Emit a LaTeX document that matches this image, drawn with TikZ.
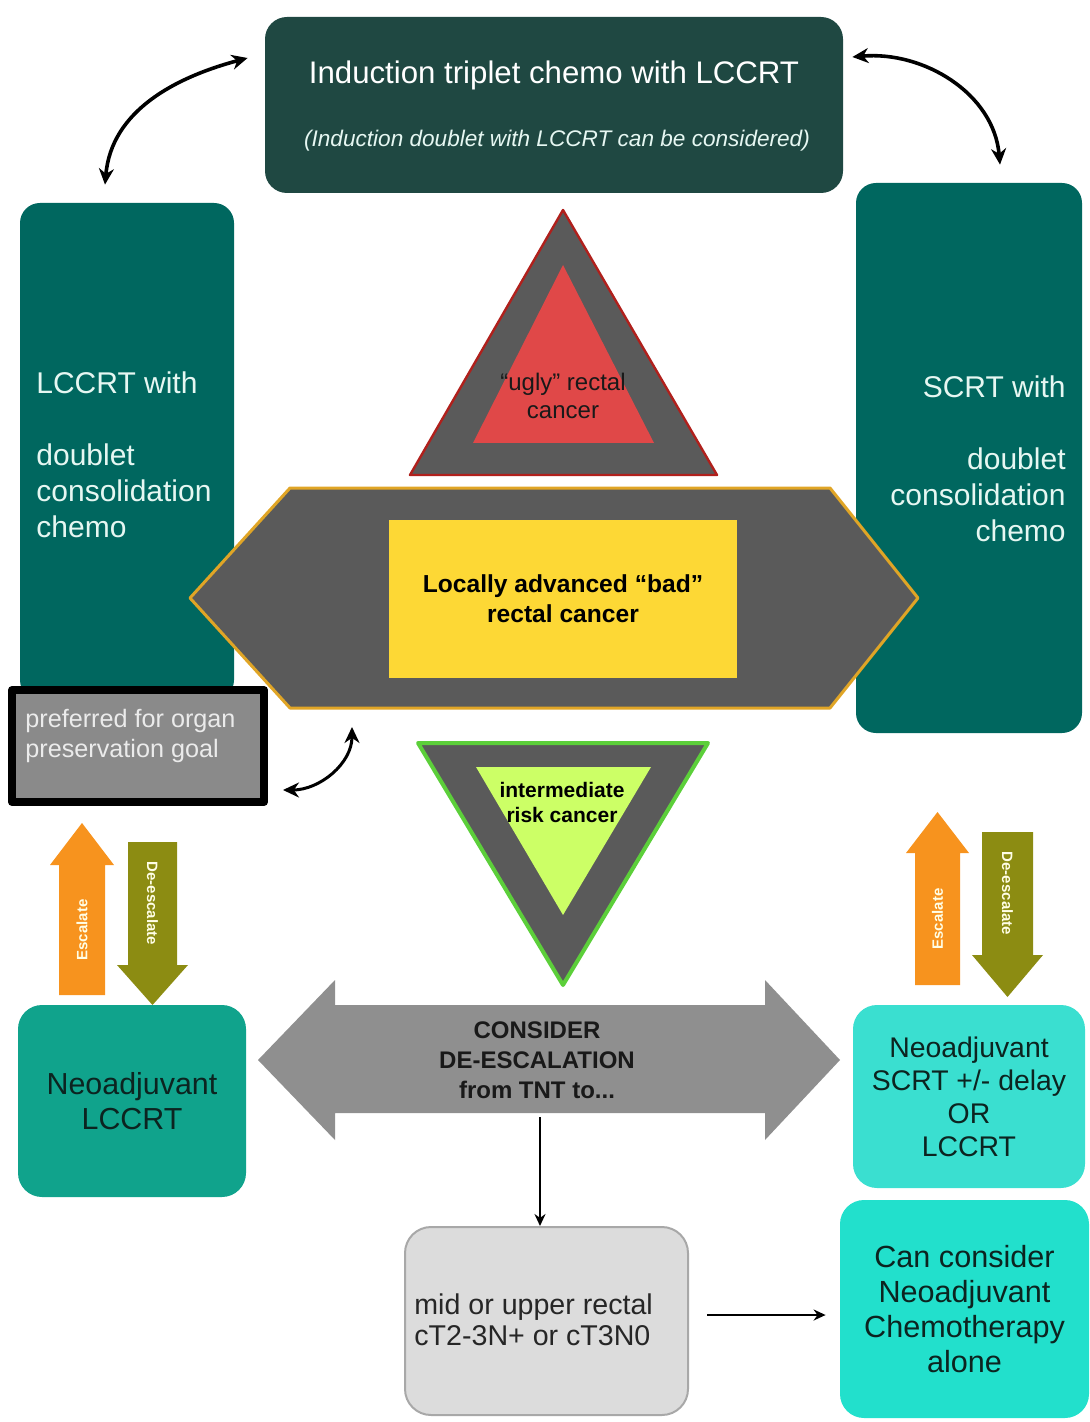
\documentclass[tikz,border=0pt]{standalone}
\usepackage{fontspec}
\setmainfont{Liberation Sans}
\usetikzlibrary{arrows.meta}
\definecolor{topgreen}{HTML}{1F4842}
\definecolor{tallteal}{HTML}{00675F}
\definecolor{paletext}{HTML}{E6F7F2}
\definecolor{neoteal}{HTML}{10A38C}
\definecolor{neoaqua}{HTML}{3ADFD0}
\definecolor{alonecyan}{HTML}{22E0CC}
\definecolor{darktext}{HTML}{0C2420}
\definecolor{hexgray}{HTML}{5A5A5A}
\definecolor{hexedge}{HTML}{E0A526}
\definecolor{badyellow}{HTML}{FDD835}
\definecolor{uglyred}{HTML}{E04848}
\definecolor{uglyedge}{HTML}{B0201C}
\definecolor{interedge}{HTML}{5CCF3A}
\definecolor{intergreen}{HTML}{CCFF66}
\definecolor{escorange}{HTML}{F7931E}
\definecolor{deolive}{HTML}{8C8C12}
\definecolor{considergray}{HTML}{8F8F8F}
\definecolor{prefgray}{HTML}{8A8A8A}
\definecolor{midgray}{HTML}{DCDCDC}
\definecolor{midedge}{HTML}{A8A8A8}
\begin{document}
\begin{tikzpicture}[x=0.5pt,y=-0.5pt,line join=round,>={Stealth[length=6pt,width=5.5pt]},font=\fontsize{15}{18}\selectfont,
		box/.style={rounded corners=11pt,inner sep=0pt,align=center},
		lbl/.style={inner sep=0pt,align=center},
		link/.style={{Stealth[length=8pt,width=7.5pt]}-{Stealth[length=8pt,width=7.5pt]},line width=1.8pt}]
	\useasboundingbox (0,0) rectangle (1089,1422);
	% top and side boxes
	\node[box,fill=topgreen,minimum width=289pt,minimum height=88pt] (induct) at (554,105) {};
	\node[lbl,text=white,font=\fontsize{15.6}{18}\selectfont] (inducttitle) at (554,75) {Induction triplet chemo with LCCRT};
	\node[lbl,text=paletext,font=\fontsize{11.3}{13}\selectfont\itshape] (inductnote) at (557,141) {(Induction doublet with LCCRT can be considered)};
	\node[box,rounded corners=10pt,fill=tallteal,minimum width=107pt,minimum height=248.5pt] (lccrt) at (127,451.5) {};
	\node[lbl,anchor=west,align=left,text=paletext] (lccrttext) at (36,455) {LCCRT with\\[18pt]doublet\\consolidation\\chemo};
	\node[box,rounded corners=10pt,fill=tallteal,minimum width=113pt,minimum height=275pt] (scrt) at (969,458) {};
	\node[lbl,anchor=east,align=right,text=paletext] (scrttext) at (1066,459) {SCRT with\\[18pt]doublet\\consolidation\\chemo};
	% risk shapes
	\draw[fill=hexgray,draw=hexedge,line width=1.5pt] (190,598)--(290,488)--(830,488)--(918,598)--(830,708)--(290,708)--cycle;
	\node[lbl,fill=badyellow,minimum width=174pt,minimum height=79pt,font=\bfseries\fontsize{12.3}{15}\selectfont] (bad) at (563,599) {Locally advanced “bad”\\rectal cancer};
	\draw[fill=hexgray,draw=uglyedge,line width=1.2pt] (563,210)--(717,475)--(410,475)--cycle;
	\fill[uglyred] (563,265)--(654,443)--(473,443)--cycle;
	\node[lbl,text=black!90,font=\fontsize{12}{14}\selectfont] (ugly) at (563,396) {“ugly” rectal\\cancer};
	\draw[fill=hexgray,draw=interedge,line width=2pt] (418,743)--(708,743)--(563,985)--cycle;
	\fill[intergreen] (476,767)--(651,767)--(563,915)--cycle;
	\node[lbl,font=\bfseries\fontsize{10.5}{12.5}\selectfont] (inter) at (562,802) {intermediate\\risk cancer};
	\node[fill=prefgray,draw=black,line width=4pt,minimum width=126pt,minimum height=56pt,inner sep=0pt] (prefer) at (138,746) {};
	\node[lbl,anchor=west,align=left,text=white!92!black,font=\fontsize{12.6}{15}\selectfont] (prefertext) at (25,736) {preferred for organ\\preservation goal};
	\coordinate (hexfoot) at (352,727);
	\draw[link,line width=1.5pt] ([xshift=7.5pt,yshift=-22pt]prefer.east) to[out=0,in=-90] (hexfoot);
	% escalate / de-escalate
	\foreach \cx/\ytail/\yhead/\ytip/\w/\h/\col/\ang/\txt [count=\n] in {
			82/995/865/823/23/32/escorange/90/Escalate,
			152.5/842/965/1005/24.5/35.5/deolive/-90/De-escalate,
			937.5/985/853/812/22.5/31.5/escorange/90/Escalate,
			1007.5/832/955/997/25.5/35.5/deolive/-90/De-escalate}{
			\fill[\col] (\cx-\w,\ytail)--(\cx+\w,\ytail)--(\cx+\w,\yhead)--(\cx+\h,\yhead)--(\cx,\ytip)--(\cx-\h,\yhead)--(\cx-\w,\yhead)--cycle;
			\node[lbl,rotate=\ang,text=white!90!yellow,font=\bfseries\fontsize{7.5}{9}\selectfont] (stepnote\n) at (\cx,{(\ytail+\yhead)/2}) {\txt};
		}
	% bottom row
	\node[box,rounded corners=12pt,fill=neoteal,text=darktext,minimum width=114pt,minimum height=96pt,font=\fontsize{15.2}{17.5}\selectfont] (neoleft) at (132,1101) {Neoadjuvant\\LCCRT};
	\node[box,rounded corners=12pt,fill=neoaqua,text=darktext,minimum width=116pt,minimum height=91.5pt,font=\fontsize{14.2}{16.5}\selectfont] (neoright) at (969,1096.5) {Neoadjuvant\\SCRT +/- delay\\OR\\LCCRT};
	\fill[considergray] (258,1060)--(335,980)--(335,1005)--(765,1005)--(765,980)--(840,1060)--(765,1140)--(765,1113)--(335,1113)--(335,1140)--cycle;
	\node[lbl,text=black!90,font=\bfseries\fontsize{12}{15}\selectfont] (consider) at (537,1060) {CONSIDER\\DE-ESCALATION\\from TNT to...};
	\node[box,rounded corners=13pt,fill=midgray,draw=midedge,line width=1pt,minimum width=141.5pt,minimum height=94pt] (mid) at (546.5,1321) {};
	\node[lbl,anchor=west,align=left,text=black!85,font=\fontsize{14.3}{15.5}\selectfont] (midtext) at (414,1320) {mid or upper rectal\\cT2-3N+ or cT3N0};
	\node[box,rounded corners=12pt,fill=alonecyan,text=darktext,minimum width=124.5pt,minimum height=109pt,font=\fontsize{15.3}{17.5}\selectfont] (alone) at (964.5,1309) {Can consider\\Neoadjuvant\\Chemotherapy\\alone};
	\coordinate (shaftfoot) at (540,1117);
	\draw[->,line width=1.3pt] (shaftfoot) -- (shaftfoot |- mid.north);
	\draw[->,line width=1.3pt,shorten <=9pt,shorten >=7pt] ([yshift=3pt]mid.east) -- ([yshift=3pt]mid.east -| alone.west);
	% loops round the top box
	\draw[link] ([xshift=-11pt,yshift=9pt]lccrt.north) to[out=85,in=195] ([xshift=-8.5pt,yshift=23.5pt]induct.west);
	\draw[link] ([xshift=4.5pt,yshift=24pt]induct.east) to[out=5,in=95] ([xshift=15.5pt,yshift=9pt]scrt.north);
\end{tikzpicture}
\end{document}
